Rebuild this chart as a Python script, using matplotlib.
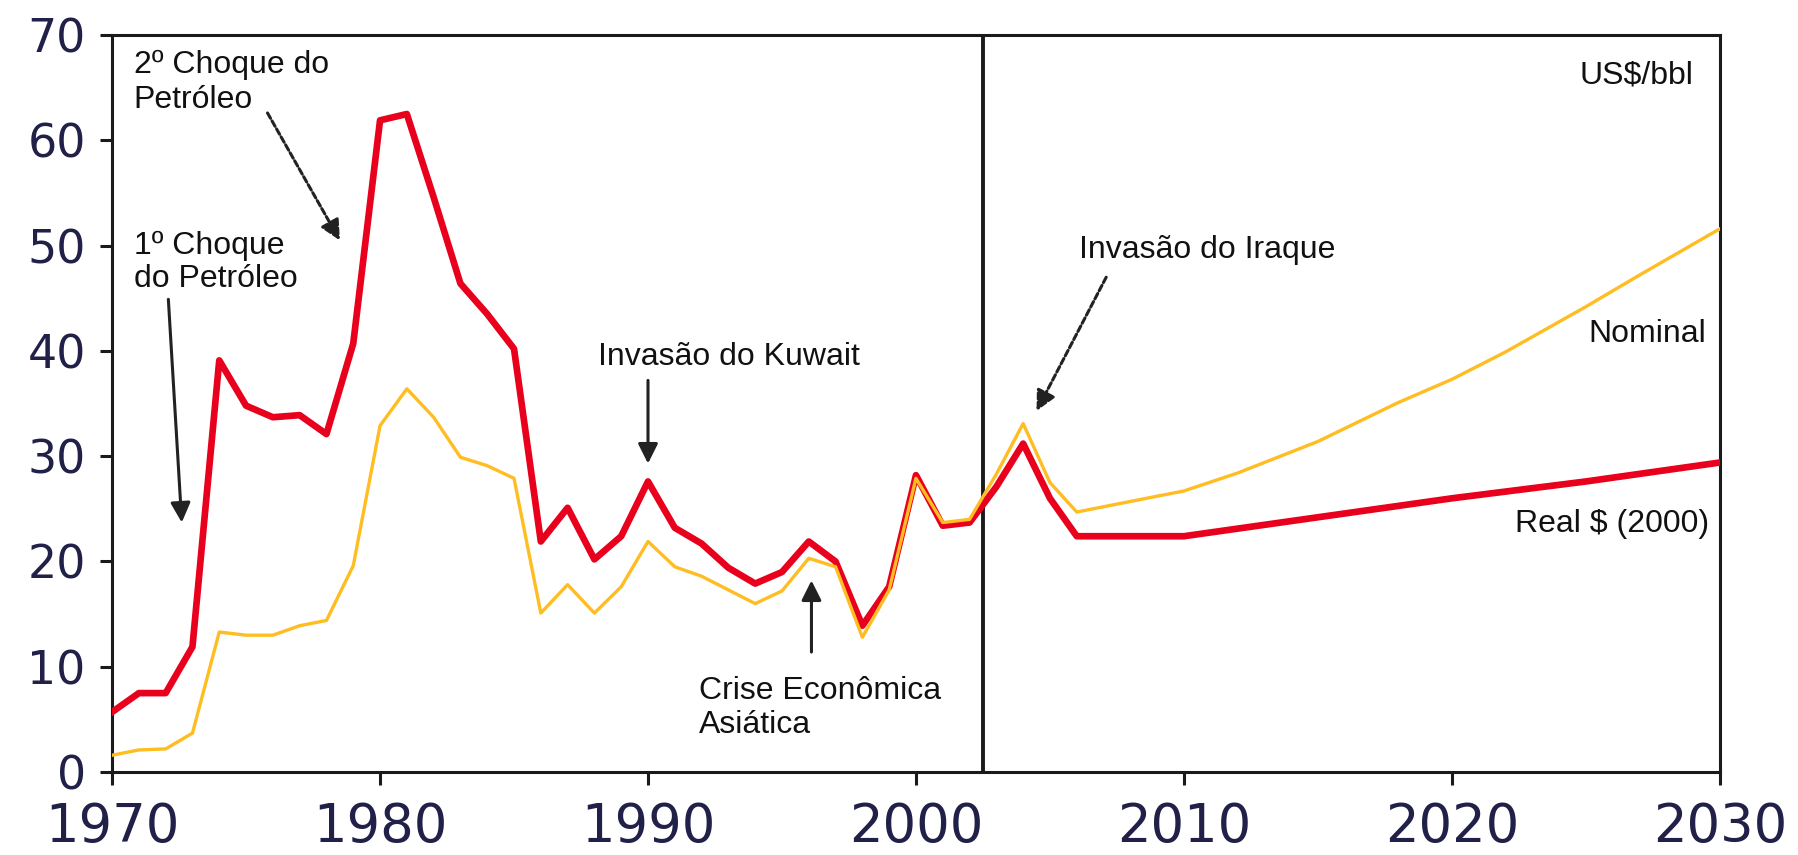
import matplotlib
matplotlib.use("Agg")
import matplotlib.pyplot as plt

# preço do petróleo, US$/bbl
years = [1970, 1971, 1972, 1973, 1974, 1975, 1976, 1977, 1978, 1979,
         1980, 1981, 1982, 1983, 1984, 1985, 1986, 1987, 1988, 1989,
         1990, 1991, 1992, 1993, 1994, 1995, 1996, 1997, 1998, 1999,
         2000, 2001, 2002, 2003, 2004, 2005, 2006, 2010, 2015, 2020,
         2025, 2030]
real_2000 = [5.7, 7.5, 7.5, 11.9, 39.1, 34.8, 33.7, 33.9, 32.1, 40.7,
             61.9, 62.5, 54.6, 46.4, 43.5, 40.2, 21.9, 25.1, 20.2, 22.4,
             27.6, 23.2, 21.7, 19.4, 17.9, 19.0, 21.9, 20.0, 13.9, 17.6,
             28.2, 23.4, 23.7, 27.1, 31.2, 26.0, 22.4, 22.4, 24.2, 26.0,
             27.6, 29.4]

nom_years = [1970, 1971, 1972, 1973, 1974, 1975, 1976, 1977, 1978, 1979,
             1980, 1981, 1982, 1983, 1984, 1985, 1986, 1987, 1988, 1989,
             1990, 1991, 1992, 1993, 1994, 1995, 1996, 1997, 1998, 1999,
             2000, 2001, 2002, 2003, 2004, 2005, 2006, 2010, 2012, 2015,
             2018, 2020, 2022, 2025, 2027, 2030]
nominal = [1.6, 2.1, 2.2, 3.7, 13.3, 13.0, 13.0, 13.9, 14.4, 19.6,
           32.9, 36.4, 33.7, 29.9, 29.1, 27.9, 15.1, 17.8, 15.1, 17.6,
           21.9, 19.5, 18.6, 17.3, 16.0, 17.2, 20.3, 19.5, 12.8, 17.3,
           27.9, 23.7, 24.0, 28.3, 33.1, 27.5, 24.7, 26.7, 28.4, 31.4,
           35.1, 37.3, 39.9, 44.2, 47.2, 51.6]

proj_start = 2002.5
x_ticks = [1970, 1980, 1990, 2000, 2010, 2020, 2030]
y_ticks = [0, 10, 20, 30, 40, 50, 60, 70]

fig = plt.figure(figsize=(17.99, 8.55), dpi=100)
ax = fig.add_axes([0.0623, 0.097, 0.8937, 0.862])

ax.plot(years, real_2000, color="#e8001c", lw=4.8, zorder=3)
ax.plot(nom_years, nominal, color="#ffbd22", lw=2.4, zorder=4)
ax.axvline(proj_start, color="#1a1a1a", lw=2.8, zorder=2)

ax.set_xlim(1970, 2030)
ax.set_ylim(0, 70)
ax.set_xticks(x_ticks)
ax.set_yticks(y_ticks)
tick_col = "#202048"
ax.tick_params(axis="both", direction="out", length=9, width=2.2, color="#1a1a1a",
               labelcolor=tick_col)
ax.tick_params(axis="y", labelsize=33, pad=10)
ax.tick_params(axis="x", labelsize=38, pad=12)
for s in ax.spines.values():
    s.set_linewidth(2.2)
    s.set_color("#1a1a1a")

txt = dict(fontsize=23, family="Liberation Sans", color="#111111")
arr = dict(arrowstyle="-|>", color="#222222", lw=2.2, mutation_scale=30, shrinkA=0, shrinkB=0)
arr_dot = dict(arr, linestyle=(0, (2, 1)))

ax.text(1970.8, 68.6, "2º Choque do\nPetróleo", va="top", ha="left", linespacing=1.22, **txt)
ax.annotate("", xy=(1978.5, 50.5), xytext=(1975.8, 62.6), arrowprops=arr_dot)

ax.text(1970.8, 51.4, "1º Choque\ndo Petróleo", va="top", ha="left", linespacing=1.15, **txt)
ax.annotate("", xy=(1972.6, 23.7), xytext=(1972.1, 44.9), arrowprops=arr)

ax.text(1988.15, 40.8, "Invasão do Kuwait", va="top", ha="left", **txt)
ax.annotate("", xy=(1990, 29.3), xytext=(1990, 37.2), arrowprops=arr)

ax.text(1991.9, 9.1, "Crise Econômica\nAsiática", va="top", ha="left", linespacing=1.15, **txt)
ax.annotate("", xy=(1996.1, 18.2), xytext=(1996.1, 11.4), arrowprops=arr)

ax.text(2006.1, 51.0, "Invasão do Iraque", va="top", ha="left", **txt)
ax.annotate("", xy=(2004.5, 34.3), xytext=(2007.1, 47.0), arrowprops=arr_dot)

ax.text(2029.0, 67.6, "US$/bbl", va="top", ha="right", **txt)
ax.text(2029.5, 43.0, "Nominal", va="top", ha="right", **txt)
ax.text(2029.6, 25.0, "Real $ (2000)", va="top", ha="right", **txt)

fig.savefig("out.png", dpi=100)
